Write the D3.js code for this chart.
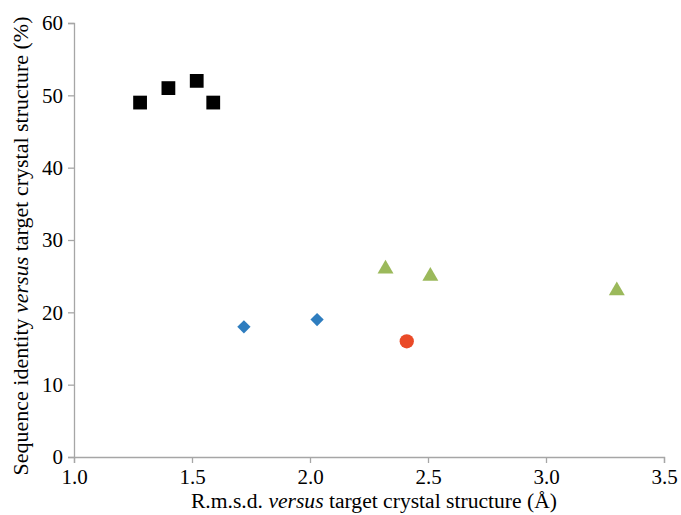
<!DOCTYPE html>
<html><head><meta charset="utf-8">
<script src="https://cdn.jsdelivr.net/npm/d3@7"></script>
<style>body{margin:0;background:#fff} svg text{font-family:'Liberation Serif','Times New Roman',serif !important}</style>
</head><body>
<svg id="c" width="681" height="515"></svg>
<script>
const xTicks = [1.0, 1.5, 2.0, 2.5, 3.0, 3.5];
const yTicks = [0, 10, 20, 30, 40, 50, 60];
const squaresX = [1.28, 1.40, 1.52, 1.59];
const squaresY = [49, 51, 52, 49];
const diamondsX = [1.72, 2.03];
const diamondsY = [18, 19];
const trianglesX = [2.32, 2.51, 3.30];
const trianglesY = [26, 25, 23];
const circlesX = [2.41];
const circlesY = [16];

const svg = d3.select("#c");
const x = d3.scaleLinear().domain([1.0, 3.5]).range([74, 664]);
const y = d3.scaleLinear().domain([0, 60]).range([457, 23]);
const font = "'Liberation Serif', 'Times New Roman', serif";
const axisColor = "#a6a6a6";

const xa = svg.append("g").attr("transform", "translate(0,457)")
  .call(d3.axisBottom(x).tickValues(xTicks).tickFormat(d3.format(".1f")).tickSizeOuter(0).tickSize(6));
const ya = svg.append("g").attr("transform", "translate(74,0)")
  .call(d3.axisLeft(y).tickValues(yTicks).tickSizeOuter(0).tickSize(6));
[xa, ya].forEach(g => {
  g.attr("font-family", font).attr("font-size", 21);
  g.select(".domain").attr("stroke", axisColor).attr("stroke-width", 1.3);
  g.selectAll(".tick line").attr("stroke", axisColor).attr("stroke-width", 1.3);
  g.selectAll(".tick text").attr("fill", "#000").style("font-family", font).style("font-size", "21px");
});
xa.selectAll(".tick text").attr("dy", "0.71em").attr("y", 12);
ya.selectAll(".tick text").attr("x", -11);

svg.append("text").attr("x", 374).attr("y", 508).attr("text-anchor", "middle")
  .attr("font-family", font).attr("font-size", 21.6)
  .html('R.m.s.d. <tspan font-style="italic">versus</tspan> target crystal structure (Å)');
svg.append("text").attr("transform", "translate(28,246) rotate(-90)").attr("text-anchor", "middle")
  .attr("font-family", font).attr("font-size", 22)
  .html('Sequence identity <tspan font-style="italic">versus</tspan> target crystal structure (%)');

function draw(xs, ys, type, size, color, rot) {
  svg.append("g").selectAll("path").data(xs.map((v, i) => [v, ys[i]])).join("path")
    .attr("transform", d => `translate(${x(d[0])},${y(d[1])}) rotate(${rot || 0})`)
    .attr("d", d3.symbol().type(type).size(size))
    .attr("fill", color);
}
draw(squaresX, squaresY, d3.symbolSquare, 190, "#000");
draw(diamondsX, diamondsY, d3.symbolSquare, 88, "#2e7dbf", 45);
draw(trianglesX, trianglesY, d3.symbolTriangle, 110, "#9bb95b");
draw(circlesX, circlesY, d3.symbolCircle, 160, "#ea4a27");
</script>
</body></html>
